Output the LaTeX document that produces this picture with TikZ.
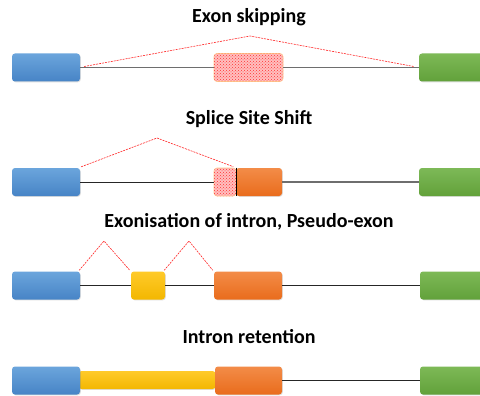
\documentclass[tikz,border=0pt]{standalone}
\usepackage{fontspec}
\setmainfont{Carlito}
\usetikzlibrary{patterns,shadows,calc}
\definecolor{bluetop}{HTML}{6BA5DC}
\definecolor{bluebot}{HTML}{4784C6}
\definecolor{orgtop}{HTML}{F38C48}
\definecolor{orgbot}{HTML}{E96C1C}
\definecolor{grntop}{HTML}{7DB957}
\definecolor{grnbot}{HTML}{62A13A}
\definecolor{yeltop}{HTML}{FFCA2A}
\definecolor{yelbot}{HTML}{F3B700}
\definecolor{intron}{HTML}{6E6E6E}
\tikzset{
  x=1pt,y=-1pt,
  exon/.style={rounded corners=3pt, minimum height=28pt, inner sep=0pt, draw=none,
    drop shadow={opacity=0.25, shadow xshift=0.8pt, shadow yshift=-0.8pt}},
  bluex/.style={exon, top color=bluetop, bottom color=bluebot},
  orgx/.style={exon, top color=orgtop, bottom color=orgbot},
  grnx/.style={exon, top color=grntop, bottom color=grnbot},
  yelx/.style={exon, top color=yeltop, bottom color=yelbot},
  hatchx/.style={rounded corners=3pt, minimum height=28pt, inner sep=0pt,
    draw=orange!45, line width=0.6pt, fill=red!25,
    postaction={pattern=crosshatch dots, pattern color=red!80}},
  title/.style={font=\fontsize{20}{24}\selectfont\bfseries},
  splice/.style={red!85, dash pattern=on 2pt off 1pt, line width=0.6pt},
  intronline/.style={intron, line width=1.4pt},
  thinline/.style={black!85, line width=0.8pt},
}
\begin{document}
\begin{tikzpicture}
\useasboundingbox (0,0) rectangle (480,396);
\clip (0,0) rectangle (480,396);
\fill[white] (0,0) rectangle (480,396);

% Row 1: Exon skipping
\node[title] (t1) at (249,17) {Exon skipping};
\node[bluex, minimum width=68pt] (b1) at (46,67.5) {};
\node[hatchx, minimum width=69pt] (h1) at (248.5,67.5) {};
\node[grnx, minimum width=70pt] (g1) at (454,67.5) {};
\draw[intronline] (b1.east) -- (h1.west);
\draw[intronline] (h1.east) -- (g1.west);
\coordinate (p1) at (250,36);
\draw[splice] ($(b1.east)+(4,-1)$) -- (p1) -- ($(g1.west)+(-5,-1)$);

% Row 2: Splice Site Shift
\node[title] (t2) at (249,119) {Splice Site Shift};
\node[bluex, minimum width=68pt] (b2) at (46,182) {};
\node[hatchx, minimum width=22pt] (h2) at (225,182) {};
\node[orgx, minimum width=46pt] (o2) at (259,182) {};
\node[grnx, minimum width=70pt] (g2) at (454,182) {};
\draw[black, line width=0.9pt] (h2.north east) -- (h2.south east);
\draw[thinline] (b2.east) -- (h2.west);
\draw[intronline] (o2.east) -- (g2.west);
\coordinate (p2) at (157,138);
\draw[splice] ($(b2.north east)+(1,-1)$) -- (p2) -- ($(h2.north east)+(-3,-1)$);

% Row 3: Exonisation
\node[title] (t3) at (249,222) {Exonisation of intron, Pseudo-exon};
\node[bluex, minimum width=68pt] (b3) at (46,285.5) {};
\node[yelx, minimum width=34pt] (y3) at (148,285.5) {};
\node[orgx, minimum width=68pt] (o3) at (248,285.5) {};
\node[grnx, minimum width=70pt] (g3) at (455,285.5) {};
\draw[thinline] (b3.east) -- (y3.west);
\draw[thinline] (y3.east) -- (o3.west);
\draw[thinline] (o3.east) -- (g3.west);
\coordinate (p3a) at (104,241);
\coordinate (p3b) at (189,241);
\draw[splice] ($(b3.north east)+(-1,-1)$) -- (p3a) -- ($(y3.north west)+(-1,-1)$);
\draw[splice] ($(y3.north east)+(-1,-1)$) -- (p3b) -- ($(o3.north west)+(-1,-1)$);

% Row 4: Intron retention
\node[title] (t4) at (249,337) {Intron retention};
\node[yelx, minimum width=137pt, minimum height=18pt] (y4) at (147,380) {};
\node[bluex, minimum width=68pt] (b4) at (46,380.5) {};
\node[orgx, minimum width=67pt] (o4) at (248.5,380.5) {};
\node[grnx, minimum width=70pt] (g4) at (455,380.5) {};
\draw[thinline] (o4.east) -- (g4.west);
\end{tikzpicture}
\end{document}
